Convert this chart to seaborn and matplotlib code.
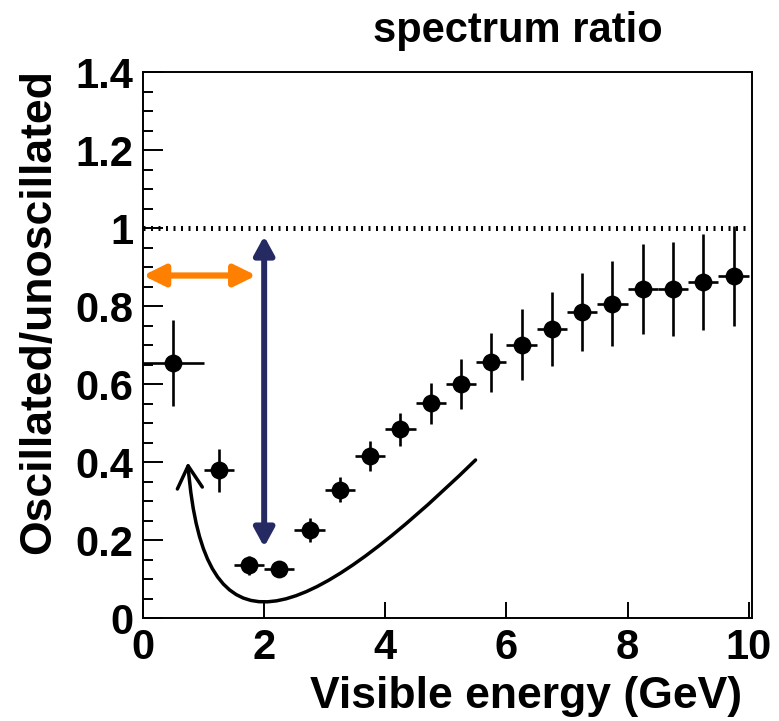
import numpy as np
import pandas as pd
import matplotlib
matplotlib.use("Agg")
import matplotlib.pyplot as plt
import seaborn as sns
from matplotlib.path import Path
from matplotlib.patches import FancyArrowPatch

# ---- data ----
energy = [0.5, 1.25, 1.75, 2.25, 2.75, 3.25, 3.75, 4.25, 4.75, 5.25, 5.75,
          6.25, 6.75, 7.25, 7.75, 8.25, 8.75, 9.25, 9.75]
energy_err = [0.5, 0.25, 0.25, 0.25, 0.25, 0.25, 0.25, 0.25, 0.25, 0.25, 0.25,
              0.25, 0.25, 0.25, 0.25, 0.25, 0.25, 0.25, 0.25]
ratio = [0.654, 0.380, 0.136, 0.127, 0.226, 0.330, 0.416, 0.485, 0.551, 0.601,
         0.656, 0.702, 0.742, 0.786, 0.807, 0.844, 0.844, 0.862, 0.878]
ratio_err = [0.11, 0.055, 0.024, 0.016, 0.03, 0.033, 0.038, 0.042, 0.053, 0.065,
             0.075, 0.09, 0.095, 0.10, 0.11, 0.115, 0.12, 0.123, 0.128]
x_ticks = [0, 2, 4, 6, 8, 10]
y_ticks = [0, 0.2, 0.4, 0.6, 0.8, 1, 1.2, 1.4]
y_tick_labels = ["0", "0.2", "0.4", "0.6", "0.8", "1", "1.2", "1.4"]
x_tick_labels = ["0", "2", "4", "6", "8", "10"]

df = pd.DataFrame({"energy": energy, "ratio": ratio})

sns.set_theme(style="ticks")
plt.rcParams["font.family"] = ["Liberation Sans", "DejaVu Sans"]
plt.rcParams["font.weight"] = "bold"
plt.rcParams["text.color"] = "black"
plt.rcParams["axes.labelcolor"] = "black"

fig = plt.figure(figsize=(7.79, 7.21), dpi=100)
ax = fig.add_axes([0.1836, 0.1424, 0.7814, 0.7573])

# error bars
ax.errorbar(energy, ratio, xerr=energy_err, yerr=ratio_err, fmt="none",
            ecolor="black", elinewidth=1.9, capsize=0, zorder=3)
sns.scatterplot(data=df, x="energy", y="ratio", ax=ax, color="black",
                s=165, edgecolor="black", linewidth=0, zorder=4, legend=False)

# dotted line at 1
ax.plot([0, 10], [1, 1], color="black", lw=3.6, dashes=(0.4, 1.1),
        dash_capstyle="butt", zorder=2)

# orange double arrow
ax.annotate("", xy=(0.0, 0.879), xytext=(1.87, 0.879),
            arrowprops=dict(arrowstyle="<|-|>,head_length=0.65,head_width=0.32",
                            mutation_scale=20, color="#FF8000", lw=4.5,
                            shrinkA=0, shrinkB=0), zorder=5)
# navy double arrow
ax.annotate("", xy=(2.0, 0.98), xytext=(2.0, 0.183),
            arrowprops=dict(arrowstyle="<|-|>,head_length=0.55,head_width=0.3",
                            mutation_scale=20, color="#262A62", lw=4.3,
                            shrinkA=0, shrinkB=0), zorder=5)

# curved black arrow
verts = [(5.49, 0.406), (2.6, -0.03), (1.0, -0.12), (0.74, 0.40)]
codes = [Path.MOVETO, Path.CURVE4, Path.CURVE4, Path.CURVE4]
curve = FancyArrowPatch(path=Path(verts, codes),
                        arrowstyle="->,head_length=0.8,head_width=0.45",
                        mutation_scale=20, color="black", lw=2.5, zorder=5)
ax.add_patch(curve)

ax.set_xlim(0, 10.05)
ax.set_ylim(0, 1.4)
ax.set_xticks(x_ticks)
ax.set_xticklabels(x_tick_labels)
ax.set_yticks(y_ticks)
ax.set_yticklabels(y_tick_labels)
ax.set_yticks(np.arange(0, 1.4001, 0.05), minor=True)

ax.tick_params(axis="both", which="both", direction="in", top=False, right=False,
               width=1.4, colors="black")
ax.tick_params(axis="y", which="major", length=14.5, pad=7, labelsize=30)
ax.tick_params(axis="y", which="minor", length=7.2)
ax.tick_params(axis="x", which="major", length=11.5, pad=7, labelsize=30)
for lab in ax.get_xticklabels() + ax.get_yticklabels():
    lab.set_fontweight("bold")

for sp in ax.spines.values():
    sp.set_visible(True)
    sp.set_linewidth(1.4)
    sp.set_color("black")

ax.set_xlabel("Visible energy (GeV)", fontsize=32, fontweight="bold",
              color="black")
ax.xaxis.set_label_coords(0.985, -0.105, transform=ax.transAxes)
ax.xaxis.label.set_horizontalalignment("right")
ax.set_ylabel("Oscillated/unoscillated", fontsize=32, fontweight="bold",
              color="black")
ax.yaxis.set_label_coords(-0.172, 1.005)
ax.yaxis.label.set_verticalalignment("center")
ax.yaxis.label.set_horizontalalignment("right")

fig.text(0.665, 0.957, "spectrum ratio", fontsize=30, fontweight="bold",
         ha="center", va="center", color="black")

fig.savefig("out.png", dpi=100)
